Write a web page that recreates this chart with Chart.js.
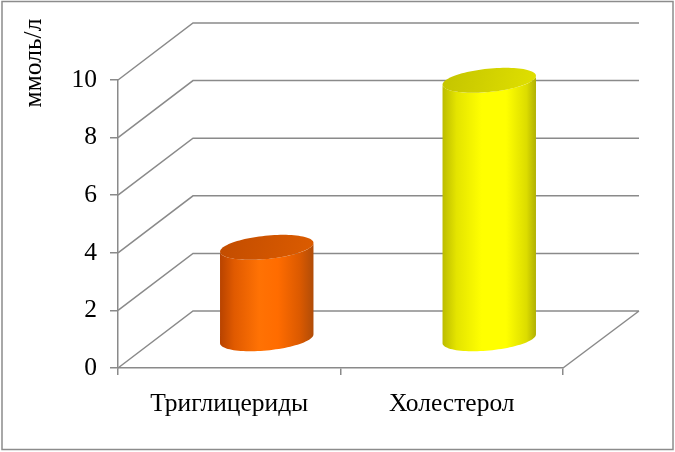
<!DOCTYPE html>
<html lang="ru">
<head>
<meta charset="UTF-8">
<title>ммоль/л</title>
<script src="https://cdn.jsdelivr.net/npm/chart.js@4"></script>
<style>
    html, body { margin: 0; padding: 0; background: #fff; }
    canvas { display: block; }
</style>
</head>
<body>
<canvas id="lipidChart" width="675" height="452"></canvas>
<script>
const categories = ['Триглицериды', 'Холестерол'];
const values = [3.2, 9.0];
const yMin = 0, yMax = 10, yStep = 2;
const yTitle = 'ммоль/л';

// fake 3D: offset of the back wall from the front plane
const depthX = 75, depthY = -57;
const ellB = 12.5;         // vertical half-height of cylinder caps
const gridColor = '#8a8a8a';
const serif = '"Liberation Serif", "Times New Roman", serif';
const fontSize = 25.5;

const palettes = [
    { body: [[0, '#b84300'], [0.15, '#e05a00'], [0.42, '#ff7204'], [0.62, '#ff6c00'], [0.85, '#dc5a00'], [1, '#b04c08']],
      top: ['#c24c00', '#dc5c00'] },
    { body: [[0, '#bcbc00'], [0.15, '#e4e400'], [0.42, '#ffff00'], [0.68, '#ffff00'], [0.9, '#dcdc00'], [1, '#b0b004']],
      top: ['#c4c400', '#e0e000'] }
];

function capPoint(cx, cy, R, a, t) {
    return [cx + R * Math.cos(t) + a * Math.sin(t), cy - ellB * Math.sin(t)];
}

function drawCylinder(ctx, cx, topY, botY, half, pal) {
    const a = ellB * depthX / -depthY;
    const R = Math.sqrt(Math.max(half * half - a * a, 1));
    const te = Math.atan2(a, R);
    const N = 48;

    // body
    const g = ctx.createLinearGradient(cx - half, 0, cx + half, 0);
    pal.body.forEach(s => g.addColorStop(s[0], s[1]));
    ctx.beginPath();
    for (let k = 0; k <= N; k++) {
        const p = capPoint(cx, botY, R, a, te + Math.PI + Math.PI * k / N);
        k === 0 ? ctx.moveTo(p[0], p[1]) : ctx.lineTo(p[0], p[1]);
    }
    for (let k = 0; k <= N; k++) {
        const p = capPoint(cx, topY, R, a, te - Math.PI * k / N);
        ctx.lineTo(p[0], p[1]);
    }
    ctx.closePath();
    ctx.fillStyle = g;
    ctx.fill();

    // top cap
    const tg = ctx.createLinearGradient(cx - half, topY - ellB, cx + half, topY + ellB);
    tg.addColorStop(0, pal.top[0]);
    tg.addColorStop(1, pal.top[1]);
    ctx.beginPath();
    for (let k = 0; k <= 2 * N; k++) {
        const p = capPoint(cx, topY, R, a, Math.PI * k / N);
        k === 0 ? ctx.moveTo(p[0], p[1]) : ctx.lineTo(p[0], p[1]);
    }
    ctx.closePath();
    ctx.fillStyle = tg;
    ctx.fill();
}

const frame3d = {
    id: 'frame3d',
    beforeDraw(chart) {
        const ctx = chart.ctx;
        ctx.save();
        ctx.fillStyle = '#fff';
        ctx.fillRect(0, 0, chart.width, chart.height);
        ctx.strokeStyle = '#8c8c8c';
        ctx.lineWidth = 1.5;
        ctx.strokeRect(2, 1.5, chart.width - 4, chart.height - 4);
        // axis title sits high, as in the original
        ctx.fillStyle = '#000';
        ctx.font = fontSize + 'px ' + serif;
        ctx.translate(41, 63);
        ctx.rotate(-Math.PI / 2);
        ctx.textAlign = 'center';
        ctx.textBaseline = 'alphabetic';
        ctx.fillText(yTitle, 0, 0);
        ctx.restore();
    },
    beforeDatasetsDraw(chart) {
        const { ctx, chartArea: area, scales: { y } } = chart;
        ctx.save();
        ctx.strokeStyle = gridColor;
        ctx.lineWidth = 1.5;
        ctx.beginPath();
        y.ticks.forEach(t => {
            const py = y.getPixelForValue(t.value);
            ctx.moveTo(area.left, py);
            ctx.lineTo(area.left + depthX, py + depthY);
            ctx.lineTo(area.right + depthX + 1, py + depthY);
        });
        ctx.moveTo(area.right, area.bottom);
        ctx.lineTo(area.right + depthX + 1, area.bottom + depthY);
        ctx.stroke();
        ctx.restore();
    },
    afterDatasetsDraw(chart) {
        const ctx = chart.ctx;
        const meta = chart.getDatasetMeta(0);
        ctx.save();
        meta.data.forEach((bar, i) => {
            const p = bar.getProps(['x', 'y', 'base', 'width'], true);
            drawCylinder(ctx, p.x + depthX / 2, p.y + depthY / 2, p.base + depthY / 2,
                p.width / 2, palettes[i % palettes.length]);
        });
        ctx.restore();
    }
};

new Chart(document.getElementById('lipidChart'), {
    type: 'bar',
    data: {
        labels: categories,
        datasets: [{
            data: values,
            backgroundColor: 'rgba(0,0,0,0)',
            borderWidth: 0,
            categoryPercentage: 1,
            barPercentage: 0.42
        }]
    },
    options: {
        responsive: false,
        animation: false,
        layout: { padding: { left: 0, top: 80, right: 112, bottom: 0 } },
        plugins: { legend: { display: false }, tooltip: { enabled: false } },
        scales: {
            x: {
                afterFit(scale) { scale.height = 84; },
                grid: { drawOnChartArea: false, drawTicks: true, tickLength: 7, color: gridColor, lineWidth: 1.5 },
                border: { color: gridColor, width: 1.5 },
                ticks: { color: '#000', padding: 14, font: { family: serif, size: fontSize } }
            },
            y: {
                min: yMin,
                max: yMax,
                afterFit(scale) { scale.width = 118; },
                grid: { drawOnChartArea: false, drawTicks: true, tickLength: 8, color: gridColor, lineWidth: 1.5 },
                border: { color: gridColor, width: 1.5 },
                ticks: { stepSize: yStep, color: '#000', padding: 13, font: { family: serif, size: fontSize } }
            }
        }
    },
    plugins: [frame3d]
});
</script>
</body>
</html>
